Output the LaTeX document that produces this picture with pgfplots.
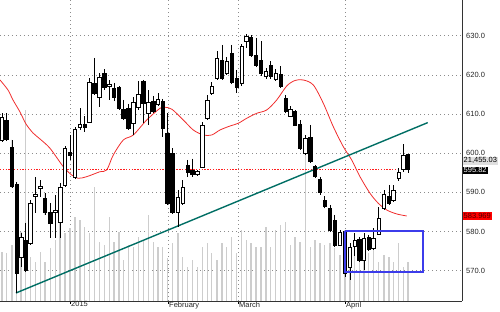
\documentclass[border=0pt]{standalone}
\usepackage{pgfplots}
\pgfplotsset{compat=1.18}
\usepackage{pgfplotstable}
\usepgfplotslibrary{statistics}
\usepackage{fontspec}
\setmainfont{Liberation Sans}

\definecolor{teal1}{RGB}{0,110,100}
\definecolor{maRed}{RGB}{240,45,45}
\definecolor{dotRed}{RGB}{255,30,30}
\definecolor{boxBlue}{RGB}{60,60,235}
\definecolor{volGray}{RGB}{205,205,205}
\definecolor{gridGray}{RGB}{140,140,140}

% white (rising) candles: x low bodylow bodyhigh high
\pgfplotstableread{
x lw lq uq uw
2 602.86 603.37 609.24 610.26
21.2 570.95 573.50 578.61 579.63
30.5 576.56 577.07 587.28 588.05
35.5 584.73 589.07 589.58 593.92
40.3 588.82 591.11 591.50 593.16
55.3 578.35 584.99 585.50 589.33
60.2 578.35 582.43 591.37 592.39
65 591.37 591.88 601.33 601.84
75 593.41 593.92 606.18 606.69
80 605.92 606.56 607.45 611.54
89.5 607.71 607.96 618.18 619.20
99.3 611.79 614.35 619.45 620.47
109.3 613.58 617.03 617.66 618.69
133.3 604.64 607.58 613.07 614.35
138.5 611.03 611.79 615.11 618.43
148.3 607.20 610.13 613.07 616.13
158 612.05 612.56 613.71 615.37
178 581.16 584.99 588.82 590.60
182.7 586.77 587.16 591.24 593.16
197.3 594.18 594.56 595.45 595.71
202.3 596.22 596.47 607.20 607.96
207.3 608.47 608.86 613.58 614.86
211.7 614.86 615.24 617.15 618.18
217 618.69 619.07 624.30 626.09
226.7 619.96 620.47 623.41 624.56
241.7 617.15 617.79 627.24 627.88
246.5 626.86 628.64 629.79 630.43
266 618.94 619.58 620.86 621.75
275.7 618.43 618.81 620.35 621.49
290.3 609.11 609.49 611.15 612.05
305.3 599.54 599.92 603.75 604.64
340 576.31 576.56 579.88 580.39
350 567.63 570.95 576.05 577.07
354.7 573.75 576.18 577.71 579.63
364 570.18 572.73 578.35 579.63
373.3 575.29 575.67 578.22 580.90
378.7 579.12 579.37 583.33 586.26
384 585.50 585.88 589.58 590.60
393.3 587.54 588.05 590.60 591.88
398.7 592.77 593.54 595.07 596.09
403.3 595.20 595.96 599.54 602.47
}\whitec

% black (falling) candles
\pgfplotstableread{
x lw lq uq uw
6.5 603.11 603.62 608.47 610.26
12 591.11 591.62 601.58 603.37
16.7 564.31 569.41 592.13 592.65
25.6 569.67 570.18 577.84 582.18
45 584.22 584.99 588.56 589.84
50.5 578.35 582.18 584.99 587.28
70 598.26 599.54 600.31 604.64
84.7 605.41 606.56 607.33 609.49
94.5 614.86 615.37 617.92 624.30
104.3 616.13 616.77 620.35 621.49
114 613.32 614.35 616.52 617.92
119 611.03 611.41 616.90 617.15
123.5 608.47 608.86 611.28 613.58
128.5 605.92 606.30 611.41 612.56
143.3 607.71 612.81 618.43 618.69
153.3 610.26 610.77 613.32 614.60
162.7 604.13 606.30 613.32 613.84
167.3 586.77 587.16 605.03 610.26
172.5 584.48 584.99 599.92 601.20
187.7 593.92 595.20 596.99 598.26
192.5 593.92 594.69 595.71 598.64
222 618.69 619.07 623.79 627.62
231.7 617.66 618.18 625.58 627.62
236.7 615.37 616.90 619.07 621.24
251 624.56 625.07 629.66 630.17
256 622.00 622.52 625.07 629.41
261 619.71 620.35 623.79 628.52
270.7 618.94 619.58 622.52 623.41
280.7 616.64 617.03 620.09 622.13
285.7 610.13 610.64 613.96 614.86
295 606.94 607.20 610.64 611.03
300 600.82 601.20 607.45 608.47
310.3 597.50 597.88 604.01 607.20
315 593.67 594.05 596.60 596.99
320 589.33 589.96 593.41 593.92
324.7 585.88 586.52 587.92 588.94
330 579.88 580.39 586.01 586.77
334.7 576.05 576.56 582.94 584.22
345 568.39 569.29 580.14 580.39
359.3 572.22 572.73 577.97 578.61
368.7 575.03 575.41 578.48 579.12
389 586.77 587.16 588.94 591.88
408 594.94 595.82 599.67 599.80
}\blackc

% volume bars (top of bar, in price scale)
\pgfplotstableread{
x v
2 574.77
6.5 574.52
12 576.56
16.7 581.16
21.2 579.88
25.6 611.03
30.5 573.50
35.5 572.22
40.3 574.77
45 572.22
50.5 575.80
55.3 577.84
60.2 583.71
65 579.63
70 580.90
75 583.71
80 582.94
84.7 581.16
89.5 579.63
94.5 591.37
99.3 577.33
104.3 576.56
109.3 583.71
114 577.33
119 579.88
123.5 572.73
128.5 576.56
133.3 576.05
138.5 578.61
143.3 577.84
148.3 584.22
153.3 577.33
158 576.05
162.7 576.05
167.3 573.24
172.5 577.07
178 579.63
182.7 573.50
187.7 570.95
192.5 572.73
197.3 570.95
202.3 576.05
207.3 577.07
211.7 574.52
217 572.73
222 577.07
226.7 576.05
231.7 578.61
236.7 574.52
241.7 580.39
246.5 577.84
251 577.07
256 576.05
261 576.05
266 581.16
270.7 576.05
275.7 580.39
280.7 581.67
285.7 582.43
290.3 576.56
295 578.61
300 577.33
305.3 600.05
310.3 576.05
315 577.84
320 577.07
324.7 576.56
330 577.07
334.7 575.80
340 574.01
345 580.39
350 576.05
354.7 575.29
359.3 574.77
364 572.73
368.7 574.52
373.3 575.80
378.7 572.22
384 574.01
389 573.50
393.3 572.22
398.7 577.07
403.3 570.95
408 572.22
}\vol

% moving average
\pgfplotstableread{
x y
0 618.69
8 616.13
13 613.58
20 610.52
26 607.45
33 605.16
40 603.62
50 601.25
63.3 596.55
71.7 594.43
78.3 593.59
86.7 594.00
100 595.27
106.7 595.71
113.3 599.54
123.3 603.37
133.3 604.64
146.7 608.47
160 611.46
165 611.72
172 611.20
183.3 608.47
193.3 605.92
203.3 604.64
211.7 604.64
220 605.92
230 606.94
238.3 607.63
246.7 608.91
256.7 610.18
266.7 611.03
276.7 613.58
286.7 617.15
295 618.56
303.3 618.69
313.3 617.41
323.3 612.74
333.3 606.76
343.3 601.66
351.7 598.26
360 593.99
370 589.76
378.3 587.21
386.7 585.50
396.7 584.48
406.7 583.97
}\ma

\pgfplotsset{
  candleW/.style={draw=black, fill=white, line width=0.7pt},
  candleB/.style={draw=black, fill=black, line width=0.7pt},
}

\newcommand\drawcandles[2]{%
  \pgfplotstablegetrowsof{#1}%
  \pgfmathtruncatemacro\ncand{\pgfplotsretval-1}%
  \pgfplotsforeachungrouped \i in {0,...,\ncand}{%
    \pgfplotstablegetelem{\i}{x}\of#1\let\cx\pgfplotsretval
    \pgfplotstablegetelem{\i}{lw}\of#1\let\clw\pgfplotsretval
    \pgfplotstablegetelem{\i}{lq}\of#1\let\clq\pgfplotsretval
    \pgfplotstablegetelem{\i}{uq}\of#1\let\cuq\pgfplotsretval
    \pgfplotstablegetelem{\i}{uw}\of#1\let\cuw\pgfplotsretval
    \edef\doplot{\noexpand\addplot[#2, boxplot prepared={draw position=\cx, lower whisker=\clw, lower quartile=\clq, median=\clq, upper quartile=\cuq, upper whisker=\cuw}] coordinates {};}%
    \doplot
  }%
}

\begin{document}
\begin{tikzpicture}
\begin{axis}[
  width=462pt, height=301pt, scale only axis,
  xmin=0, xmax=462, ymin=562.26, ymax=639.11,
  axis x line*=bottom, axis y line*=right,
  axis line style={black!80, line width=0.8pt},
  clip mode=individual,
  ytick={570,580,590,600,610,620,630},
  yticklabels={570.0,580.0,590.0,600.0,610.0,620.0,630.0},
  xtick={70,168,238,345},
  xticklabels={2015,February,March,April},
  ymajorgrids, xmajorgrids,
  grid style={gridGray, line width=0.6pt, dash pattern=on 0.8pt off 3.2pt},
  ytick style={draw=none},
  xtick style={black, line width=0.6pt},
  tick align=outside,
  major tick length=3pt,
  ticklabel style={font=\fontsize{7.5}{9}\selectfont, text=black!85},
  yticklabel style={anchor=west, inner sep=1pt},
  xticklabel style={anchor=north west, inner sep=0.5pt, xshift=0.5pt, yshift=3pt},
  boxplot/draw direction=y,
  boxplot/box extend=3.4,
  boxplot/whisker extend=0,
]
\coordinate (bl) at (rel axis cs:0,0);
% volume
\addplot[ycomb, draw=volGray, line width=1.5pt] table[x=x, y=v] {\vol};
% moving average
\addplot[maRed, line width=0.8pt, smooth] table[x=x, y=y] {\ma};
% last price line
\addplot[dotRed, line width=1.2pt, dash pattern=on 1.3pt off 1.5pt] coordinates {(0,595.82) (400,595.82)};
% trend line
\addplot[teal1, line width=1.4pt] coordinates {(16,564.31) (427.7,607.8)};
% candles
\drawcandles{\whitec}{candleW}
\drawcandles{\blackc}{candleB}
% box
\addplot[boxBlue, line width=1.1pt] coordinates {(345,580.14) (423,580.14) (423,569.67) (345,569.67) (345,580.14)};
% right labels
\node[anchor=west, fill=gray!25, text=black, inner sep=1pt, font=\fontsize{7.5}{9}\selectfont] at (axis cs:462.5,598.1) {21,455.03};
\node[anchor=west, fill=black, text=white, inner sep=1pt, font=\fontsize{7.5}{9}\selectfont] at (axis cs:462.5,595.6) {595.82};
\node[anchor=west, fill=red, text=black!70!red, inner sep=1pt, font=\fontsize{7.5}{9}\selectfont] at (axis cs:462.5,583.97) {583.969};
\end{axis}
\pgfresetboundingbox
\path (bl) ++(0pt,-11pt) rectangle ++(500pt,312pt);
\end{tikzpicture}
\end{document}
